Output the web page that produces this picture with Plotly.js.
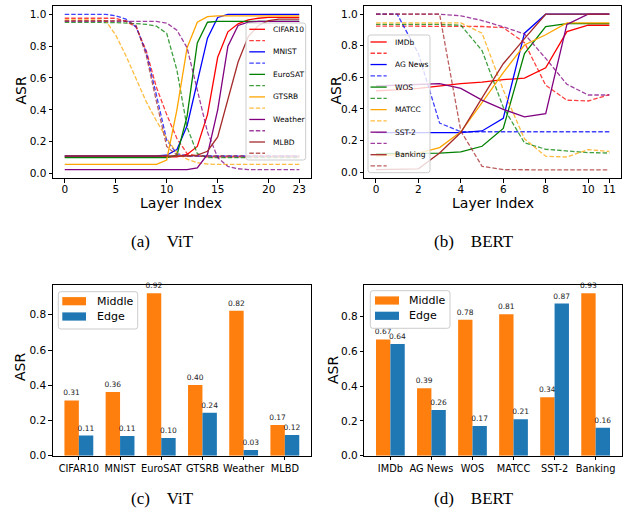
<!DOCTYPE html>
<html>
<head>
<meta charset="utf-8">
<script src="https://cdn.plot.ly/plotly-3.0.1.min.js"></script>
<style>html,body{margin:0;padding:0;background:#fff;}#chart{width:629px;height:515px;}</style>
</head>
<body>
<div id="chart"></div>
<script>
// ---------------- DATA ----------------
const vitLayers = [0,1,2,3,4,5,6,7,8,9,10,11,12,13,14,15,16,17,18,19,20,21,22,23];
const vitNames = ['CIFAR10','MNIST','EuroSAT','GTSRB','Weather','MLBD'];
const cifarSolid   = [0.105,0.105,0.105,0.105,0.105,0.105,0.105,0.105,0.105,0.105,0.105,0.105,0.12,0.17,0.37,0.73,0.89,0.94,0.965,0.975,0.98,0.98,0.98,0.98];
const cifarDash    = [0.975,0.975,0.975,0.975,0.975,0.975,0.955,0.92,0.77,0.54,0.37,0.22,0.125,0.11,0.105,0.105,0.105,0.105,0.105,0.105,0.105,0.105,0.105,0.105];
const mnistSolid   = [0.11,0.11,0.11,0.11,0.11,0.11,0.11,0.11,0.11,0.11,0.115,0.15,0.30,0.58,0.85,0.98,1.0,1.0,1.0,1.0,1.0,1.0,1.0,1.0];
const mnistDash    = [1.0,1.0,1.0,1.0,1.0,0.99,0.97,0.92,0.76,0.49,0.21,0.125,0.11,0.11,0.11,0.11,0.11,0.11,0.11,0.11,0.11,0.11,0.11,0.11];
const eurosatSolid = [0.10,0.10,0.10,0.10,0.10,0.10,0.10,0.10,0.10,0.10,0.10,0.115,0.36,0.82,0.95,0.955,0.955,0.955,0.955,0.955,0.955,0.955,0.955,0.955];
const eurosatDash  = [0.95,0.95,0.95,0.95,0.95,0.948,0.945,0.94,0.937,0.925,0.88,0.65,0.29,0.125,0.10,0.10,0.10,0.10,0.10,0.10,0.10,0.10,0.10,0.10];
const gtsrbSolid   = [0.057,0.057,0.057,0.057,0.057,0.057,0.057,0.057,0.057,0.057,0.085,0.40,0.79,0.95,0.985,0.99,0.99,0.99,0.99,0.99,0.99,0.99,0.99,0.99];
const gtsrbDash    = [0.965,0.965,0.965,0.965,0.96,0.87,0.74,0.60,0.45,0.33,0.22,0.13,0.09,0.068,0.06,0.057,0.057,0.057,0.057,0.057,0.057,0.057,0.057,0.057];
const weatherSolid = [0.025,0.025,0.025,0.025,0.025,0.025,0.025,0.025,0.025,0.025,0.025,0.025,0.025,0.035,0.12,0.40,0.80,0.93,0.95,0.955,0.955,0.955,0.955,0.955];
const weatherDash  = [0.955,0.955,0.955,0.955,0.955,0.955,0.955,0.955,0.955,0.955,0.945,0.90,0.79,0.53,0.26,0.10,0.045,0.03,0.025,0.025,0.025,0.025,0.025,0.025];
const mlbdSolid    = [0.11,0.11,0.11,0.11,0.11,0.11,0.11,0.11,0.11,0.11,0.11,0.11,0.11,0.115,0.14,0.23,0.46,0.70,0.86,0.93,0.96,0.97,0.97,0.97];
const mlbdDash     = [0.96,0.96,0.96,0.96,0.96,0.96,0.96,0.93,0.74,0.45,0.17,0.115,0.11,0.11,0.11,0.11,0.11,0.11,0.11,0.11,0.11,0.11,0.11,0.11];

const bertLayers = [0,1,2,3,4,5,6,7,8,9,10,11];
const bertNames = ['IMDb','AG News','WOS','MATCC','SST-2','Banking'];
const imdbSolid  = [0.515,0.52,0.53,0.545,0.56,0.57,0.585,0.595,0.66,0.89,0.93,0.93];
const imdbDash   = [0.925,0.925,0.925,0.925,0.925,0.922,0.915,0.82,0.55,0.455,0.45,0.49];
const agSolid    = [0.25,0.25,0.25,0.25,0.25,0.26,0.34,0.88,1.0,1.0,1.0,1.0];
const agDash     = [1.0,1.0,0.75,0.31,0.255,0.255,0.255,0.255,0.255,0.255,0.255,0.255];
const wosSolid   = [0.117,0.118,0.12,0.12,0.127,0.163,0.276,0.75,0.922,0.94,0.94,0.94];
const wosDash    = [0.935,0.935,0.935,0.935,0.93,0.77,0.41,0.185,0.144,0.132,0.123,0.12];
const matccSolid = [0.10,0.11,0.12,0.155,0.255,0.44,0.63,0.805,0.87,0.945,0.945,0.945];
const matccDash  = [0.945,0.945,0.945,0.945,0.945,0.88,0.52,0.21,0.10,0.095,0.142,0.13];
const sstSolid   = [0.545,0.55,0.555,0.56,0.53,0.456,0.397,0.35,0.37,0.935,1.0,1.0];
const sstDash    = [1.0,1.0,1.0,1.0,0.99,0.96,0.92,0.875,0.72,0.556,0.488,0.488];
const bankSolid  = [0.015,0.017,0.02,0.12,0.25,0.47,0.686,0.845,1.0,1.0,1.0,1.0];
const bankDash   = [1.0,1.0,1.0,1.0,0.26,0.036,0.015,0.013,0.013,0.013,0.013,0.013];

const vitCats   = ['CIFAR10','MNIST','EuroSAT','GTSRB','Weather','MLBD'];
const vitMiddle = [0.314,0.361,0.923,0.401,0.823,0.174];
const vitEdge   = [0.114,0.112,0.100,0.244,0.032,0.117];
const bertCats   = ['IMDb','AG News','WOS','MATCC','SST-2','Banking'];
const bertMiddle = [0.668,0.388,0.781,0.813,0.336,0.934];
const bertEdge   = [0.642,0.262,0.170,0.210,0.874,0.160];
const barNames = ['Middle','Edge'];

const vitXTicks = [0,5,10,15,20,23];
const bertXTicks = [0,2,4,6,8,10,11];
const lineYTicks = [0,0.2,0.4,0.6,0.8,1.0];
const barYTicks = [0,0.2,0.4,0.6,0.8];
const captions = ['(a)\u2003ViT','(b)\u2003BERT','(c)\u2003ViT','(d)\u2003BERT'];

// ---------------- STYLE / LAYOUT ----------------
const W = 629, H = 515;
const PX = x => x / W;
const PY = y => 1 - y / H;
const lineColors = ['#ff0000','#0000ff','#008000','#ffa500','#800080','#a52a2a'];
const barColors = ['#ff7f0e','#1f77b4'];
const FONT = 'DejaVu Sans, Verdana, sans-serif';
const DASH = '4.5px,2px';
const DASH_OP = 0.75;
const LW = 1.3;

const vitSeries = [[cifarSolid,cifarDash],[mnistSolid,mnistDash],[eurosatSolid,eurosatDash],[gtsrbSolid,gtsrbDash],[weatherSolid,weatherDash],[mlbdSolid,mlbdDash]];
const bertSeries = [[imdbSolid,imdbDash],[agSolid,agDash],[wosSolid,wosDash],[matccSolid,matccDash],[sstSolid,sstDash],[bankSolid,bankDash]];

const traces = [];
function addLines(layers, series, names, xa, ya) {
  series.forEach((pair, i) => {
    traces.push({type:'scatter', mode:'lines', x:layers, y:pair[0], name:names[i], xaxis:xa, yaxis:ya,
      line:{color:lineColors[i], width:LW}, hoverinfo:'skip'});
    traces.push({type:'scatter', mode:'lines', x:layers, y:pair[1], name:names[i]+' (edge)', xaxis:xa, yaxis:ya,
      line:{color:lineColors[i], width:LW, dash:DASH}, opacity:DASH_OP, hoverinfo:'skip'});
  });
}
addLines(vitLayers, vitSeries, vitNames, 'x', 'y');
addLines(bertLayers, bertSeries, bertNames, 'x2', 'y2');

function addBars(cats, mid, edge, xa, ya) {
  [mid, edge].forEach((vals, k) => {
    traces.push({type:'bar', x:cats, y:vals, name:barNames[k], xaxis:xa, yaxis:ya,
      marker:{color:barColors[k]}, texttemplate:'%{y:.2f}', textposition:'outside',
      textfont:{family:FONT, size:7.5, color:'#222'}, cliponaxis:false, constraintext:'none', hoverinfo:'skip'});
  });
}
addBars(vitCats, vitMiddle, vitEdge, 'x3', 'y3');
addBars(bertCats, bertMiddle, bertEdge, 'x4', 'y4');

const axBase = {showline:true, linecolor:'#000', linewidth:1, mirror:true, ticks:'outside', ticklen:3.5,
  tickwidth:1, tickcolor:'#000', showgrid:false, zeroline:false, tickangle:0,
  tickfont:{family:FONT, size:10.5, color:'#000'}, fixedrange:true};
const ax = o => Object.assign({}, axBase, o);

const shapes = [];
const annotations = [];

function roundRectPath(x0, y0, x1, y1, r) {
  const p = (x, y) => PX(x).toFixed(5) + ',' + PY(y).toFixed(5);
  return 'M' + p(x0+r,y0) + ' L' + p(x1-r,y0) + ' Q' + p(x1,y0) + ' ' + p(x1,y0+r) +
    ' L' + p(x1,y1-r) + ' Q' + p(x1,y1) + ' ' + p(x1-r,y1) + ' L' + p(x0+r,y1) +
    ' Q' + p(x0,y1) + ' ' + p(x0,y1-r) + ' L' + p(x0,y0+r) + ' Q' + p(x0,y0) + ' ' + p(x0+r,y0) + ' Z';
}
function legendBox(x0, y0, x1, y1) {
  shapes.push({type:'path', xref:'paper', yref:'paper', path:roundRectPath(x0,y0,x1,y1,2.5),
    fillcolor:'rgba(255,255,255,0.8)', line:{color:'#cccccc', width:1}, layer:'above'});
}
function lineLegend(names, box, row0, step, hx0, hx1, tx) {
  legendBox(box[0], box[1], box[2], box[3]);
  names.forEach((nm, i) => {
    const ys = row0 + 2*i*step, yd = row0 + (2*i+1)*step;
    shapes.push({type:'line', xref:'paper', yref:'paper', x0:PX(hx0), x1:PX(hx1), y0:PY(ys), y1:PY(ys),
      line:{color:lineColors[i], width:LW}, layer:'above'});
    shapes.push({type:'line', xref:'paper', yref:'paper', x0:PX(hx0), x1:PX(hx1), y0:PY(yd), y1:PY(yd),
      line:{color:lineColors[i], width:LW, dash:DASH}, opacity:DASH_OP, layer:'above'});
    annotations.push({xref:'paper', yref:'paper', x:PX(tx), y:PY(ys), xanchor:'left', yanchor:'middle',
      text:nm, showarrow:false, font:{family:FONT, size:7.5, color:'#000'}});
  });
}
lineLegend(vitNames, [246,23,305.7,160], 29.3, 11.27, 249.3, 265, 270.5);
lineLegend(bertNames, [368,35,430,172.7], 42, 11.27, 370.5, 386.7, 393);

function barLegend(box, px0, px1, rows, ph, tx) {
  legendBox(box[0], box[1], box[2], box[3]);
  barNames.forEach((nm, k) => {
    shapes.push({type:'rect', xref:'paper', yref:'paper', x0:PX(px0), x1:PX(px1), y0:PY(rows[k]-ph/2), y1:PY(rows[k]+ph/2),
      fillcolor:barColors[k], line:{width:0}, layer:'above'});
    annotations.push({xref:'paper', yref:'paper', x:PX(tx), y:PY(rows[k]), xanchor:'left', yanchor:'middle',
      text:nm, showarrow:false, font:{family:FONT, size:11, color:'#000'}});
  });
}
barLegend([58.3,291.7,137.7,329], 62.3, 86, [301.2,316.5], 8.2, 95);
barLegend([370.3,290.7,450,328.3], 375, 399, [300.5,315.8], 8.2, 407);

function txt(x, y, s, size, fam, angle) {
  annotations.push({xref:'paper', yref:'paper', x:PX(x), y:PY(y), xanchor:'center', yanchor:'middle',
    text:s, showarrow:false, textangle:angle||0, font:{family:fam, size:size, color:'#000'}});
}
txt(181, 203, 'Layer Index', 14, FONT);
txt(493, 203, 'Layer Index', 14, FONT);
txt(20.5, 91, 'ASR', 14, FONT, -90);
txt(335.5, 91, 'ASR', 14, FONT, -90);
txt(20, 367, 'ASR', 14, FONT, -90);
txt(333, 370, 'ASR', 14, FONT, -90);
const SERIF = 'Liberation Serif, Times New Roman, serif';
txt(162, 242, captions[0], 17, SERIF);
txt(474, 242, captions[1], 17, SERIF);
txt(162, 498, captions[2], 17, SERIF);
txt(474, 498, captions[3], 17, SERIF);

const layout = {
  width:W, height:H, margin:{l:0,r:0,t:0,b:0}, paper_bgcolor:'#fff', plot_bgcolor:'#fff',
  showlegend:false, hovermode:false, barmode:'group', bargap:0.3, bargroupgap:0,
  font:{family:FONT, color:'#000'},
  xaxis: ax({domain:[PX(53),PX(311)], range:[-1.15,24.15], tickvals:vitXTicks, anchor:'y', ticklabelstandoff:-2}),
  yaxis: ax({domain:[PY(178),PY(6)], range:[-0.028,1.052], tickvals:lineYTicks, tickformat:'.1f', anchor:'x'}),
  xaxis2: ax({domain:[PX(364.3),PX(621)], range:[-0.55,11.55], tickvals:bertXTicks, anchor:'y2', ticklabelstandoff:-2}),
  yaxis2: ax({domain:[PY(178),PY(6)], range:[-0.038,1.052], tickvals:lineYTicks, tickformat:'.1f', anchor:'x2'}),
  xaxis3: ax({domain:[PX(52.7),PX(311)], type:'category', range:[-0.635,5.635], anchor:'y3', tickfont:{family:FONT,size:9.8,color:'#000'}}),
  yaxis3: ax({domain:[PY(455.7),PY(285)], range:[0, Math.max(...vitMiddle, ...vitEdge)*1.05], tickvals:barYTicks, tickformat:'.1f', anchor:'x3'}),
  xaxis4: ax({domain:[PX(364.3),PX(621.7)], type:'category', range:[-0.635,5.635], anchor:'y4', tickfont:{family:FONT,size:9.8,color:'#000'}}),
  yaxis4: ax({domain:[PY(455.7),PY(285)], range:[0, Math.max(...bertMiddle, ...bertEdge)*1.05], tickvals:barYTicks, tickformat:'.1f', anchor:'x4'}),
  shapes: shapes,
  annotations: annotations
};

Plotly.newPlot('chart', traces, layout, {staticPlot:true, displayModeBar:false});
</script>
</body>
</html>
